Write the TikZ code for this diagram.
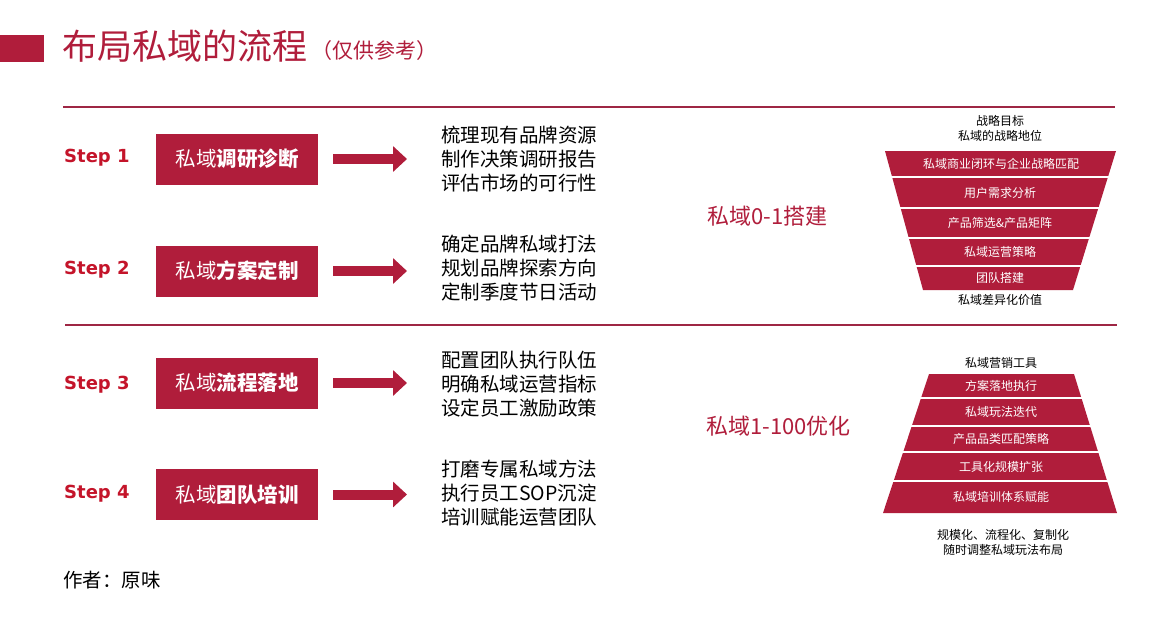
\documentclass[tikz,border=0pt]{standalone}
\usepackage{fontspec}
\setmainfont{Noto Sans CJK SC}
\newfontfamily\stepfont{DejaVu Sans}
\usetikzlibrary{arrows.meta,positioning}
\definecolor{boxred}{RGB}{176,29,59}
\definecolor{stepred}{RGB}{196,20,42}
\definecolor{rulered}{RGB}{158,38,68}

\begin{document}
\begin{tikzpicture}[x=1pt,y=-1pt,
    steplbl/.style={anchor=west,inner sep=0pt,text=stepred,font=\stepfont\bfseries\fontsize{18}{20}\selectfont},
    stepbox/.style={fill=boxred,text=white,minimum width=162pt,minimum height=51pt,inner sep=0pt,font=\fontsize{20.5}{22}\selectfont},
    todo/.style={anchor=west,inner sep=0pt,align=left,font=\fontsize{19.5}{24}\selectfont},
    bigarrow/.style={draw=boxred,line width=10pt,-{Triangle[length=14pt,width=25pt]},shorten <=15pt,shorten >=34pt},
    stage/.style={anchor=west,inner sep=0pt,text=boxred,font=\fontsize{22}{24}\selectfont},
    small/.style={inner sep=0pt,align=center,font=\fontsize{12}{15}\selectfont},
    band/.style={small,text=white}]
      \useasboundingbox (0,0) rectangle (1172,630);

      \fill[boxred] (0,35) rectangle (44,62);
      \node [anchor=west,inner sep=0pt,text=boxred,font=\fontsize{35}{37}\selectfont] (title) at (62,46) {布局私域的流程};
      \node [anchor=west,inner sep=0pt,text=boxred,font=\fontsize{21}{24}\selectfont] (note) at (311,51) {（仅供参考）};
      \draw[rulered,line width=1.5pt] (63,107) -- (1115,107);
      \draw[rulered,line width=1.5pt] (65,325) -- (1117,325);

      \node [steplbl] (s1) at (64,158) {Step 1};
      \node [steplbl] (s2) at (64,270) {Step 2};
      \node [steplbl] (s3) at (64,385) {Step 3};
      \node [steplbl] (s4) at (64,494) {Step 4};

      \node [stepbox] (b1) at (237,159) {私域\textbf{调研诊断}};
      \node [stepbox] (b2) at (237,271) {私域\textbf{方案定制}};
      \node [stepbox] (b3) at (237,383) {私域\textbf{流程落地}};
      \node [stepbox] (b4) at (237,494.5) {私域\textbf{团队培训}};

      \node [todo] (t1) at (441,159) {梳理现有品牌资源\\制作决策调研报告\\评估市场的可行性};
      \node [todo] (t2) at (441,268) {确定品牌私域打法\\规划品牌探索方向\\定制季度节日活动};
      \node [todo] (t3) at (441,384) {配置团队执行队伍\\明确私域运营指标\\设定员工激励政策};
      \node [todo] (t4) at (441,493) {打磨专属私域方法\\执行员工SOP沉淀\\培训赋能运营团队};

      \draw[bigarrow] (b1.east) -- (b1.east -| t1.west);
      \draw[bigarrow] (b2.east) -- (b2.east -| t2.west);
      \draw[bigarrow] (b3.east) -- (b3.east -| t3.west);
      \draw[bigarrow] (b4.east) -- (b4.east -| t4.west);

      \node [stage] (g1) at (707,216) {私域0-1搭建};
      \node [stage] (g2) at (706,426) {私域1-100优化};

      \fill[boxred] (885,151) -- (1116,151) -- (1073,290) -- (923,290) -- cycle;
      \draw[white,line width=1.5pt] (880,177) -- (1120,177);
      \draw[white,line width=1.5pt] (880,208) -- (1120,208);
      \draw[white,line width=1.5pt] (880,238) -- (1120,238);
      \draw[white,line width=1.5pt] (880,266) -- (1120,266);
      \node [small] (ftop) at (1000,128.5) {战略目标\\私域的战略地位};
      \node [band] (f1) at (1001,164) {私域商业闭环与企业战略匹配};
      \node [band] (f2) at (1000,192.5) {用户需求分析};
      \node [band] (f3) at (1000,223) {产品筛选\&产品矩阵};
      \node [band] (f4) at (1000,252) {私域运营策略};
      \node [band] (f5) at (1000,278) {团队搭建};
      \node [small] (fbot) at (1000,300) {私域差异化价值};

      \fill[boxred] (929,374) -- (1074,374) -- (1117,513) -- (883,513) -- cycle;
      \draw[white,line width=1.5pt] (880,398) -- (1120,398);
      \draw[white,line width=1.5pt] (880,426) -- (1120,426);
      \draw[white,line width=1.5pt] (880,452) -- (1120,452);
      \draw[white,line width=1.5pt] (880,481) -- (1120,481);
      \node [small] (ptop) at (1001,363) {私域营销工具};
      \node [band] (p1) at (1001,386) {方案落地执行};
      \node [band] (p2) at (1001,412) {私域玩法迭代};
      \node [band] (p3) at (1001,439) {产品品类匹配策略};
      \node [band] (p4) at (1001,466.5) {工具化规模扩张};
      \node [band] (p5) at (1001,497) {私域培训体系赋能};
      \node [small] (pbot) at (1003,542.5) {规模化、流程化、复制化\\随时调整私域玩法布局};

      \node [anchor=west,inner sep=0pt,font=\fontsize{19.5}{22}\selectfont] (auth) at (63,580) {作者：原味};
    \end{tikzpicture}
\end{document}
